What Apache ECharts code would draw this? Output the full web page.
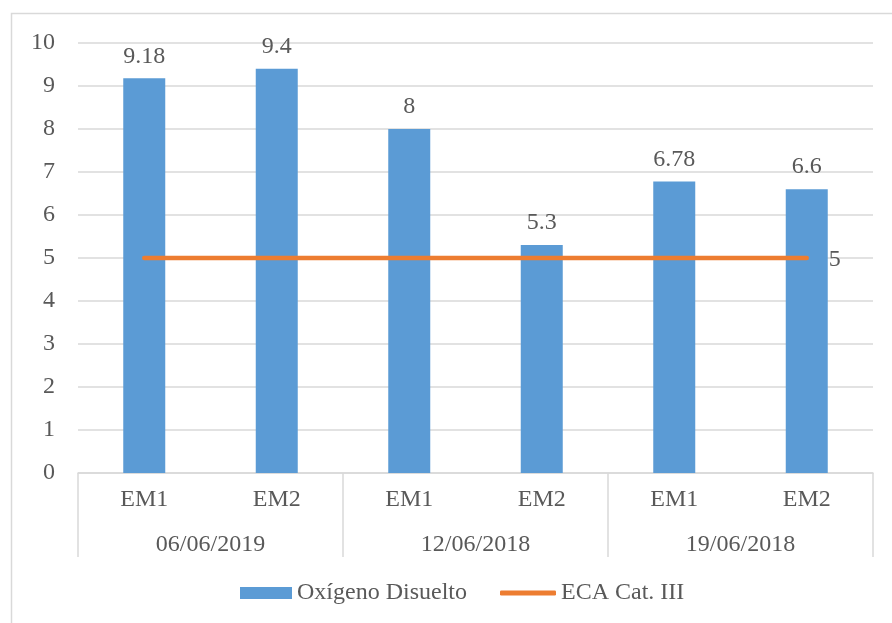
<!DOCTYPE html>
<html><head><meta charset="utf-8">
<script src="https://cdn.jsdelivr.net/npm/echarts@6/dist/echarts.min.js"></script>
<style>html,body{margin:0;padding:0;background:#fff}#c{width:892px;height:623px}</style>
</head><body><div id="c"></div>
<script>
const categories = ['EM1','EM2','EM1','EM2','EM1','EM2'];
const groups = ['06/06/2019','12/06/2018','19/06/2018'];
const oxigeno = [9.18, 9.4, 8, 5.3, 6.78, 6.6];
const eca = [5, 5, 5, 5, 5, 5];
const seriesNames = ['Oxígeno Disuelto','ECA Cat. III'];

const FONT = 'Liberation Serif';
const TXT = '#595959';
const FS = 24;
const chart = echarts.init(document.getElementById('c'));
chart.setOption({
  animation:false,
  textStyle:{fontFamily:FONT},
  graphic:[{type:'rect',shape:{x:11.5,y:13.5,width:900,height:700},style:{fill:'none',stroke:'#D9D9D9',lineWidth:1.5},silent:true,z:-1}],
  grid:{left:78,right:19,top:43,bottom:150},
  legend:[
    {left:240,top:581,padding:0,itemWidth:52,itemHeight:12,
     textStyle:{fontFamily:FONT,fontSize:FS,color:TXT},
     data:[{name:seriesNames[0],icon:'rect'}]},
    {left:500,top:581,padding:0,itemWidth:56,itemHeight:5,
     textStyle:{fontFamily:FONT,fontSize:FS,color:TXT},
     data:[{name:seriesNames[1],icon:'roundRect'}]}
  ],
  xAxis:[
    {type:'category',data:categories,position:'bottom',
     axisLine:{show:true,lineStyle:{color:'#D9D9D9',width:1.5}},
     axisTick:{show:false},
     axisLabel:{fontFamily:FONT,fontSize:FS,color:TXT,margin:15}},
    {type:'category',data:groups,position:'bottom',
     axisLine:{show:false},
     axisTick:{show:true,length:84,lineStyle:{color:'#D9D9D9',width:1.5}},
     axisLabel:{fontFamily:FONT,fontSize:FS,color:TXT,margin:60}}
  ],
  yAxis:{type:'value',min:0,max:10,interval:1,
    axisLine:{show:false},axisTick:{show:false},
    splitLine:{lineStyle:{color:'#D9D9D9',width:1.5}},
    axisLabel:{fontFamily:FONT,fontSize:FS,color:TXT,margin:23}},
  series:[
    {name:seriesNames[0],type:'bar',xAxisIndex:0,data:oxigeno,barWidth:42,
     itemStyle:{color:'#5B9BD5'},
     label:{show:true,position:'top',distance:10,fontFamily:FONT,fontSize:FS,color:TXT}},
    {name:seriesNames[1],type:'line',xAxisIndex:0,data:eca,
     symbol:'none',lineStyle:{color:'#ED7D31',width:4.5,cap:'round'},itemStyle:{color:'#ED7D31'},
     endLabel:{show:true,distance:22,fontFamily:FONT,fontSize:FS,color:TXT,offset:[0,2],formatter:'{c}'}}
  ]
});
</script></body></html>
